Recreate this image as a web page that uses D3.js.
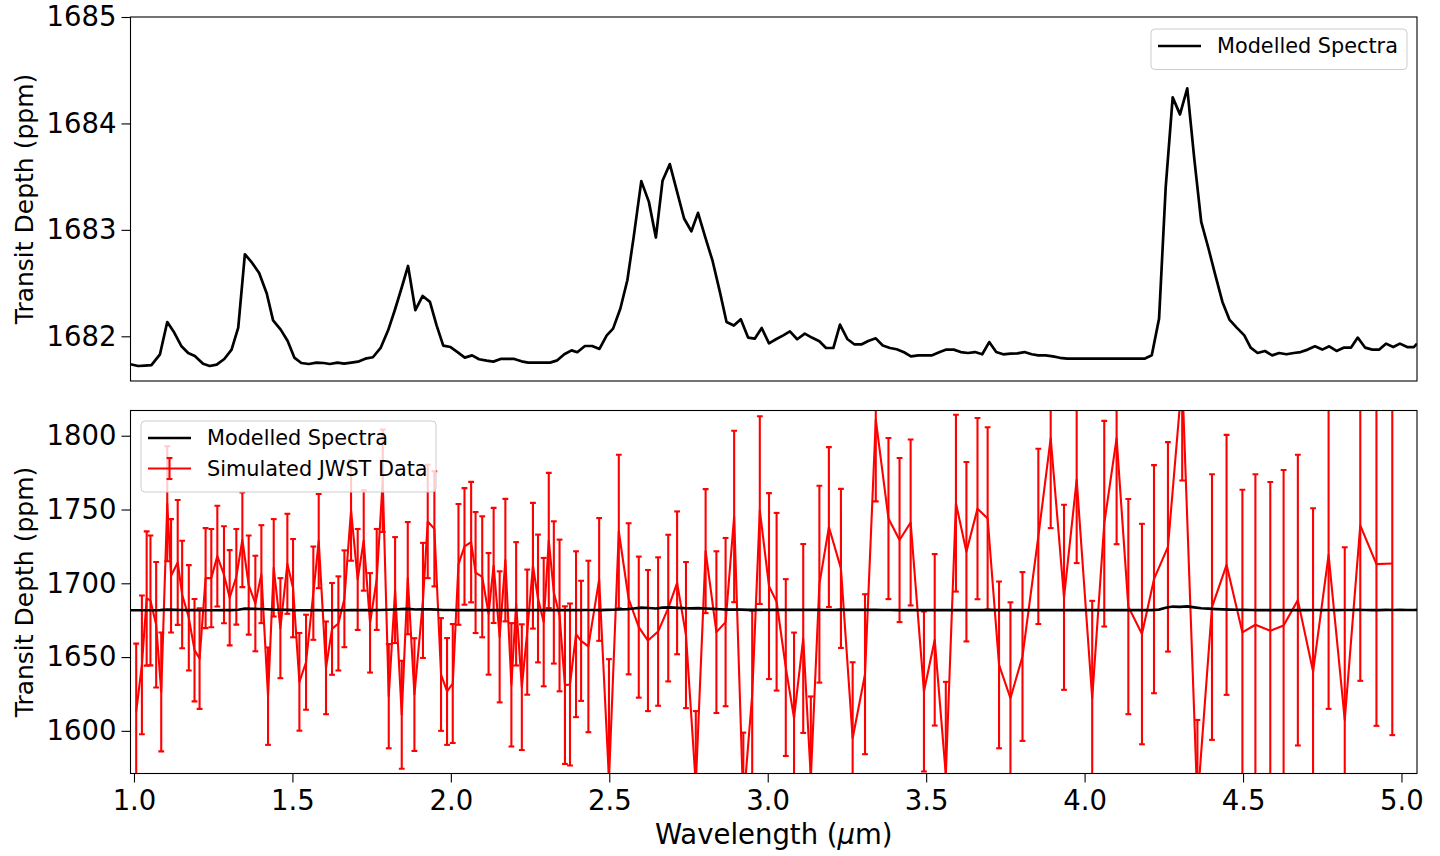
<!DOCTYPE html>
<html lang="en">
<head>
<meta charset="UTF-8">
<title>Modelled spectrum and simulated JWST data</title>
<script src="https://d3js.org/d3.v7.min.js"></script>
<style>
  body { margin: 0; background: #ffffff; }
  svg { display: block; font-family: "DejaVu Sans", sans-serif; }
  .tick text { font-family: "DejaVu Sans", sans-serif; font-size: 27.5px; fill: #000; }
  .tick line { stroke: #000; stroke-width: 1.1px; }
  .frame { fill: none; stroke: #000; stroke-width: 1.1px; }
  .legend-box { fill: #fff; fill-opacity: 0.8; stroke: #cccccc; stroke-width: 1px; }
  .legend-text { font-size: 20.8px; fill: #000; }
  .axis-label { font-size: 25px; fill: #000; }
  .x-label { font-size: 27.5px; fill: #000; }
</style>
</head>
<body>
<svg id="chart" width="1440" height="856"></svg>
<script>
// model spectrum (wavelength in micron, transit depth in ppm)
const modelWave = [
  0.989, 1.013, 1.034, 1.055, 1.082, 1.105, 1.127, 1.150, 1.171, 1.192,
  1.218, 1.239, 1.261, 1.285, 1.308, 1.329, 1.350, 1.373, 1.395, 1.419,
  1.439, 1.463, 1.485, 1.506, 1.528, 1.552, 1.576, 1.599, 1.618, 1.642,
  1.663, 1.686, 1.707, 1.730, 1.754, 1.779, 1.802, 1.823, 1.844, 1.865,
  1.888, 1.911, 1.934, 1.955, 1.976, 1.999, 2.021, 2.044, 2.067, 2.089,
  2.113, 2.134, 2.157, 2.179, 2.200, 2.223, 2.244, 2.265, 2.288, 2.313,
  2.336, 2.358, 2.381, 2.399, 2.423, 2.446, 2.469, 2.492, 2.512, 2.535,
  2.557, 2.577, 2.601, 2.625, 2.647, 2.668, 2.691, 2.714, 2.736, 2.759,
  2.780, 2.804, 2.826, 2.849, 2.870, 2.893, 2.915, 2.938, 2.959, 2.981,
  3.004, 3.026, 3.049, 3.070, 3.093, 3.117, 3.139, 3.163, 3.184, 3.207,
  3.228, 3.251, 3.273, 3.297, 3.317, 3.341, 3.363, 3.386, 3.407, 3.430,
  3.452, 3.475, 3.499, 3.519, 3.543, 3.564, 3.587, 3.609, 3.632, 3.654,
  3.677, 3.699, 3.721, 3.743, 3.766, 3.788, 3.810, 3.833, 3.854, 3.877,
  3.900, 3.922, 3.945, 3.967, 3.989, 4.011, 4.033, 4.055, 4.077, 4.099,
  4.121, 4.144, 4.167, 4.189, 4.212, 4.235, 4.256, 4.278, 4.301, 4.324,
  4.346, 4.368, 4.391, 4.414, 4.435, 4.457, 4.480, 4.504, 4.524, 4.546,
  4.569, 4.592, 4.614, 4.637, 4.660, 4.682, 4.704, 4.727, 4.750, 4.772,
  4.795, 4.819, 4.841, 4.862, 4.885, 4.908, 4.930, 4.951, 4.974, 4.995,
  5.018, 5.039, 5.049
];
const modelDepth = [
  1681.737, 1681.721, 1681.725, 1681.730, 1681.831, 1682.134, 1682.035, 1681.906, 1681.843, 1681.815,
  1681.743, 1681.721, 1681.734, 1681.787, 1681.875, 1682.082, 1682.771, 1682.689, 1682.595, 1682.402,
  1682.150, 1682.063, 1681.956, 1681.800, 1681.749, 1681.740, 1681.753, 1681.749, 1681.740, 1681.753,
  1681.743, 1681.753, 1681.762, 1681.790, 1681.803, 1681.894, 1682.056, 1682.245, 1682.449, 1682.661,
  1682.245, 1682.379, 1682.323, 1682.103, 1681.913, 1681.899, 1681.852, 1681.800, 1681.821, 1681.784,
  1681.771, 1681.762, 1681.787, 1681.787, 1681.787, 1681.765, 1681.753, 1681.753, 1681.753, 1681.753,
  1681.774, 1681.831, 1681.868, 1681.850, 1681.909, 1681.909, 1681.881, 1682.009, 1682.072, 1682.261,
  1682.527, 1682.934, 1683.458, 1683.263, 1682.928, 1683.461, 1683.618, 1683.357, 1683.107, 1682.987,
  1683.160, 1682.919, 1682.708, 1682.417, 1682.134, 1682.101, 1682.160, 1681.988, 1681.978, 1682.078,
  1681.934, 1681.972, 1682.009, 1682.047, 1681.972, 1682.025, 1681.988, 1681.953, 1681.890, 1681.890,
  1682.110, 1681.975, 1681.925, 1681.925, 1681.956, 1681.981, 1681.913, 1681.890, 1681.878, 1681.850,
  1681.812, 1681.821, 1681.821, 1681.821, 1681.852, 1681.875, 1681.875, 1681.852, 1681.843, 1681.852,
  1681.831, 1681.946, 1681.852, 1681.831, 1681.837, 1681.840, 1681.852, 1681.831, 1681.821, 1681.821,
  1681.812, 1681.798, 1681.790, 1681.790, 1681.790, 1681.790, 1681.790, 1681.790, 1681.790, 1681.790,
  1681.790, 1681.790, 1681.790, 1681.790, 1681.821, 1682.166, 1683.404, 1684.245, 1684.085, 1684.330,
  1683.671, 1683.075, 1682.825, 1682.558, 1682.323, 1682.157, 1682.082, 1682.009, 1681.894, 1681.843,
  1681.862, 1681.821, 1681.843, 1681.831, 1681.843, 1681.852, 1681.875, 1681.906, 1681.875, 1681.906,
  1681.862, 1681.894, 1681.894, 1681.988, 1681.894, 1681.875, 1681.875, 1681.931, 1681.899, 1681.931,
  1681.899, 1681.899, 1681.931
];

// simulated JWST points with 1-sigma errors (ppm)
const jwstWave = [
  1.007, 1.025, 1.040, 1.052, 1.070, 1.086, 1.105, 1.117, 1.138, 1.152,
  1.173, 1.191, 1.207, 1.226, 1.244, 1.263, 1.284, 1.302, 1.323, 1.342,
  1.362, 1.383, 1.402, 1.423, 1.441, 1.462, 1.484, 1.502, 1.522, 1.543,
  1.566, 1.583, 1.606, 1.625, 1.645, 1.664, 1.685, 1.706, 1.725, 1.745,
  1.766, 1.785, 1.804, 1.824, 1.845, 1.864, 1.885, 1.912, 1.927, 1.948,
  1.969, 1.988, 2.006, 2.024, 2.043, 2.064, 2.078, 2.099, 2.119, 2.135,
  2.154, 2.172, 2.191, 2.206, 2.224, 2.241, 2.259, 2.275, 2.293, 2.309,
  2.325, 2.343, 2.360, 2.376, 2.395, 2.411, 2.434, 2.468, 2.499, 2.530,
  2.561, 2.593, 2.622, 2.654, 2.686, 2.714, 2.742, 2.773, 2.804, 2.838,
  2.867, 2.894, 2.923, 2.951, 2.975, 3.004, 3.028, 3.057, 3.083, 3.112,
  3.136, 3.163, 3.193, 3.231, 3.268, 3.307, 3.341, 3.381, 3.416, 3.451,
  3.493, 3.527, 3.562, 3.594, 3.627, 3.662, 3.694, 3.730, 3.766, 3.804,
  3.854, 3.893, 3.935, 3.975, 4.024, 4.062, 4.101, 4.138, 4.181, 4.219,
  4.263, 4.308, 4.356, 4.402, 4.448, 4.498, 4.539, 4.586, 4.628, 4.673,
  4.721, 4.770, 4.821, 4.870, 4.921, 4.971
];
const jwstDepth = [
  1613.1, 1644.7, 1689.7, 1688.4, 1671.9, 1626.4, 1753.9, 1705.1, 1714.1, 1692.4,
  1676.6, 1654.7, 1649.0, 1703.5, 1703.5, 1718.4, 1705.8, 1690.2, 1704.4, 1729.5,
  1698.8, 1686.3, 1706.2, 1623.5, 1710.5, 1669.6, 1713.2, 1696.7, 1633.2, 1646.5,
  1693.3, 1728.6, 1642.7, 1669.1, 1672.8, 1689.5, 1749.4, 1702.6, 1729.0, 1673.2,
  1702.6, 1769.5, 1623.5, 1695.4, 1610.9, 1703.5, 1624.6, 1688.4, 1741.9, 1736.9,
  1638.2, 1626.7, 1632.1, 1712.8, 1725.0, 1727.9, 1707.3, 1704.4, 1679.3, 1712.1,
  1663.7, 1715.7, 1631.2, 1686.1, 1629.6, 1666.9, 1711.9, 1689.7, 1673.7, 1729.0,
  1693.8, 1678.2, 1631.0, 1631.4, 1665.5, 1661.0, 1657.2, 1702.6, 1566.8, 1735.1,
  1689.5, 1670.3, 1661.2, 1667.3, 1683.2, 1700.3, 1664.9, 1563.4, 1721.8, 1666.9,
  1673.7, 1745.3, 1549.8, 1624.4, 1749.6, 1698.1, 1687.5, 1642.9, 1608.6, 1662.6,
  1567.9, 1699.4, 1738.1, 1710.1, 1595.0, 1638.4, 1810.9, 1743.9, 1729.3, 1741.2,
  1626.7, 1661.7, 1570.2, 1754.3, 1721.4, 1750.6, 1743.9, 1644.7, 1622.1, 1650.4,
  1731.8, 1798.4, 1690.5, 1770.2, 1622.1, 1740.4, 1798.4, 1684.2, 1665.6, 1702.8,
  1724.7, 1839.1, 1550.7, 1683.9, 1712.5, 1666.7, 1671.9, 1667.8, 1671.4, 1688.6,
  1640.2, 1719.3, 1607.4, 1739.2, 1713.0, 1713.4
];
const jwstErr = [
  46, 47, 45.5, 44, 42.5, 40.3, 39, 38.4, 42.3, 36.4,
  35.7, 34.7, 34.1, 33.9, 33.3, 34.1, 32.9, 32.3, 32.4, 32.1,
  33.6, 32.4, 33.2, 33, 33, 33.9, 33.9, 33.3, 33.1, 32.2,
  31.6, 31.9, 31.4, 31.1, 31.9, 32.8, 34.1, 34.2, 34.0, 33.7,
  34.2, 34.7, 35.3, 35.9, 36.6, 38, 38.2, 39, 38.4, 39,
  38.2, 36.2, 40.3, 40.9, 39.5, 40.8, 41, 41, 41.2, 39,
  44.4, 41.5, 41.8, 41.8, 42.6, 42.4, 42.6, 43.3, 43.5, 45.8,
  48.2, 51.4, 53.4, 54.9, 56.2, 40.7, 58.1, 41.6, 81.8, 52,
  51.2, 47.8, 47.8, 50.3, 49.7, 48.4, 49.5, 50, 42, 54.8,
  57, 58.1, 49, 57, 63.6, 63, 60.2, 59.9, 58, 64,
  55.4, 66.7, 54.2, 53.9, 51.5, 54.2, 55.4, 54.6, 55.6, 56.2,
  54.2, 58.1, 63, 59.9, 60.8, 61.4, 61.8, 56.5, 65, 57.2,
  59.4, 61, 62.7, 56.5, 66, 69.7, 71.9, 72.9, 74.7, 77.3,
  71, 69.4, 56.7, 90, 88.1, 96.7, 102, 100.8, 105.4, 98.5,
  110.7, 104.4, 117, 105.3, 109.6, 116.3
];

// axis limits and ticks
const xLimits = [0.989, 5.049];
const xTicks = [1.0, 1.5, 2.0, 2.5, 3.0, 3.5, 4.0, 4.5, 5.0];
const topLimits = [1681.58, 1685];
const topTicks = [1682, 1683, 1684, 1685];
const bottomLimits = [1571.1, 1817.1];
const bottomTicks = [1600, 1650, 1700, 1750, 1800];

const svg = d3.select("#chart");
const left = 130.5, right = 1417;

const x = d3.scaleLinear().domain(xLimits).range([left, right]);
const yTop = d3.scaleLinear().domain(topLimits).range([381, 17]);
const yBot = d3.scaleLinear().domain(bottomLimits).range([773.5, 410.5]);

const model = d3.zip(modelWave, modelDepth);
const jwst = jwstWave.map((w, i) => ({ w: w, v: jwstDepth[i], e: jwstErr[i] }));

function panel(id, y, ticks) {
    const [bottom, top] = y.range();
    svg.append("clipPath").attr("id", id)
        .append("rect")
        .attr("x", left).attr("y", top)
        .attr("width", right - left).attr("height", bottom - top);

    const g = svg.append("g");
    g.append("g")
        .attr("transform", `translate(${left},0)`)
        .call(d3.axisLeft(y).tickValues(ticks).tickSize(9).tickPadding(5).tickFormat(d3.format("d")))
        .call(a => a.select(".domain").remove());

    const plot = g.append("g").attr("clip-path", `url(#${id})`);
    return { g, plot, top, bottom };
}

// top panel: model only
const p1 = panel("clipTop", yTop, topTicks);
p1.plot.append("path")
    .datum(model)
    .attr("fill", "none")
    .attr("stroke", "#000")
    .attr("stroke-width", 2.7)
    .attr("stroke-linejoin", "round")
    .attr("d", d3.line().x(d => x(d[0])).y(d => yTop(d[1])));
p1.g.append("rect").attr("class", "frame")
    .attr("x", left).attr("y", p1.top)
    .attr("width", right - left).attr("height", p1.bottom - p1.top);

// bottom panel: JWST data with error bars plus model
const p2 = panel("clipBot", yBot, bottomTicks);
p2.g.append("g")
    .attr("transform", `translate(0,${p2.bottom})`)
    .call(d3.axisBottom(x).tickValues(xTicks).tickSize(9).tickPadding(8).tickFormat(d3.format(".1f")))
    .call(a => a.select(".domain").remove());

const bars = p2.plot.append("g")
    .attr("stroke", "#ff0000")
    .attr("stroke-width", 2.1);
bars.selectAll("line.err").data(jwst).enter().append("line")
    .attr("class", "err")
    .attr("x1", d => x(d.w)).attr("x2", d => x(d.w))
    .attr("y1", d => yBot(d.v - d.e)).attr("y2", d => yBot(d.v + d.e));
["lo", "hi"].forEach(k => {
    bars.selectAll("line.cap-" + k).data(jwst).enter().append("line")
        .attr("class", "cap-" + k)
        .attr("x1", d => x(d.w) - 2.9).attr("x2", d => x(d.w) + 2.9)
        .attr("y1", d => yBot(k === "lo" ? d.v - d.e : d.v + d.e))
        .attr("y2", d => yBot(k === "lo" ? d.v - d.e : d.v + d.e));
});
p2.plot.append("path")
    .datum(jwst)
    .attr("fill", "none")
    .attr("stroke", "#ff0000")
    .attr("stroke-width", 2.1)
    .attr("stroke-linejoin", "round")
    .attr("d", d3.line().x(d => x(d.w)).y(d => yBot(d.v)));
p2.plot.append("path")
    .datum(model)
    .attr("fill", "none")
    .attr("stroke", "#000")
    .attr("stroke-width", 2.7)
    .attr("d", d3.line().x(d => x(d[0])).y(d => yBot(d[1])));
p2.g.append("rect").attr("class", "frame")
    .attr("x", left).attr("y", p2.top)
    .attr("width", right - left).attr("height", p2.bottom - p2.top);

// axis labels
[p1, p2].forEach(p => {
    svg.append("text").attr("class", "axis-label")
        .attr("text-anchor", "middle")
        .attr("transform", `translate(33,${(p.top + p.bottom) / 2}) rotate(-90)`)
        .text("Transit Depth (ppm)");
});
const xl = svg.append("text").attr("class", "x-label")
    .attr("text-anchor", "middle")
    .attr("x", (left + right) / 2).attr("y", 844);
xl.append("tspan").text("Wavelength (");
xl.append("tspan").attr("font-style", "italic").text("μ");
xl.append("tspan").text("m)");

// legends
function legend(x0, y0, w, items) {
    const lg = svg.append("g");
    lg.append("rect").attr("class", "legend-box")
        .attr("x", x0).attr("y", y0).attr("width", w).attr("height", 10 + items.length * 30.5)
        .attr("rx", 4);
    items.forEach((it, i) => {
        const cy = y0 + 17 + i * 30.5;
        lg.append("line")
            .attr("x1", x0 + 7).attr("x2", x0 + 50).attr("y1", cy).attr("y2", cy)
            .attr("stroke", it.color).attr("stroke-width", it.err ? 2.1 : 2.7);
        if (it.err) {
            const cx = x0 + 28.5;
            lg.append("line").attr("x1", cx).attr("x2", cx).attr("y1", cy - 10.5).attr("y2", cy + 10.5)
                .attr("stroke", it.color).attr("stroke-width", 2.1);
            [-10.5, 10.5].forEach(o => lg.append("line")
                .attr("x1", cx - 2.9).attr("x2", cx + 2.9).attr("y1", cy + o).attr("y2", cy + o)
                .attr("stroke", it.color).attr("stroke-width", 2.1));
        }
        lg.append("text").attr("class", "legend-text")
            .attr("x", x0 + 66).attr("y", cy).attr("dy", "0.35em")
            .text(it.label);
    });
}
legend(1151, 29, 256, [{ label: "Modelled Spectra", color: "#000" }]);
legend(141, 421, 295, [
    { label: "Modelled Spectra", color: "#000" },
    { label: "Simulated JWST Data", color: "#ff0000", err: true }
]);
</script>
</body>
</html>
